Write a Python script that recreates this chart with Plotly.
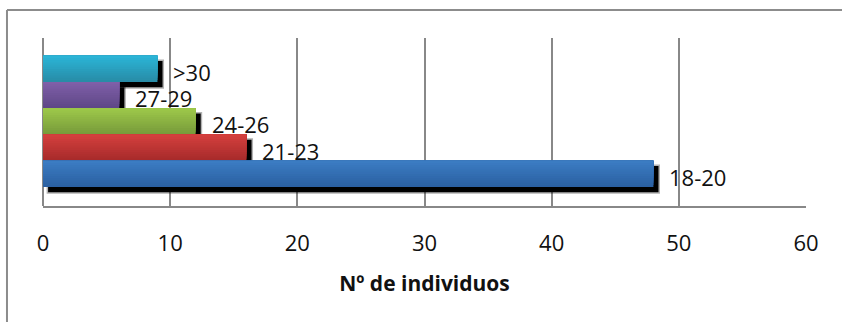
import plotly.graph_objects as go

categories = ["18-20", "21-23", "24-26", "27-29", ">30"]
values = [48, 16, 12, 6, 9]
top_colors = [(60, 125, 196), (213, 64, 62), (158, 201, 74), (128, 96, 170), (43, 182, 216)]
bottom_colors = [(42, 95, 160), (165, 42, 42), (118, 153, 58), (94, 70, 133), (40, 138, 165)]
x_ticks = [0, 10, 20, 30, 40, 50, 60]
x_title = "Nº de individuos"

FONT = "Open Sans"
positions = list(range(len(categories)))

fig = go.Figure()

# shadows (drawn first, behind all bars)
fig.add_trace(go.Bar(
    x=values, y=positions, orientation="h", base=0.4, width=1, offset=-0.5 - 0.2,
    marker=dict(color="black", line=dict(color="rgba(0,0,0,0.3)", width=3)),
    hoverinfo="skip", showlegend=False,
))

# gradient bars: layered slices, each reaching the bar top, bottom slice first
K = 12
for k in range(K):
    t = (k + 0.5) / K  # fraction of height from bottom
    cols = []
    for tc, bc in zip(top_colors, bottom_colors):
        c = tuple(round(b + (tt - b) * t) for tt, b in zip(tc, bc))
        cols.append("rgb(%d,%d,%d)" % c)
    fig.add_trace(go.Bar(
        x=values, y=positions, orientation="h", width=1.0 - k / K,
        offset=-0.5 + k / K,
        marker=dict(color=cols, line=dict(width=0)),
        hoverinfo="skip", showlegend=False,
    ))

for v, p, c in zip(values, positions, categories):
    fig.add_annotation(x=v, y=p, text=c, showarrow=False, xanchor="left",
                       xshift=14, yshift=-3,
                       font=dict(family=FONT, size=22, color="#111111"))

# outer chart frame
fig.add_shape(type="line", xref="paper", yref="paper",
              x0=(7 - 43) / 762.6, x1=1.2, y0=(206 - 10) / 168, y1=(206 - 10) / 168,
              line=dict(color="#8c8c8c", width=2))
fig.add_shape(type="line", xref="paper", yref="paper",
              x0=(7 - 43) / 762.6, x1=(7 - 43) / 762.6, y0=(206 - 10) / 168, y1=-1,
              line=dict(color="#8c8c8c", width=2))

fig.update_layout(
    width=842, height=322,
    margin=dict(l=43, r=36, t=38, b=116),
    paper_bgcolor="white", plot_bgcolor="white",
    barmode="overlay",
    showlegend=False,
    font=dict(family=FONT, size=22, color="#111111"),
    xaxis=dict(
        range=[0, 60], tickvals=x_ticks, ticktext=[str(t) for t in x_ticks],
        showgrid=True, gridcolor="#888888", gridwidth=1.5,
        zeroline=True, zerolinecolor="#888888", zerolinewidth=1.5,
        showline=True, linecolor="#888888", linewidth=1.5,
        ticks="", ticklabelstandoff=17,
        tickfont=dict(family=FONT, size=22, color="#111111"),
        title=dict(text="<b>" + x_title + "</b>", standoff=20,
                   font=dict(family=FONT, size=21, color="#111111")),
    ),
    yaxis=dict(range=[-1.22, 5.18], showgrid=False, zeroline=False,
               showticklabels=False, showline=False, ticks=""),
)

fig.write_html("out.html")
